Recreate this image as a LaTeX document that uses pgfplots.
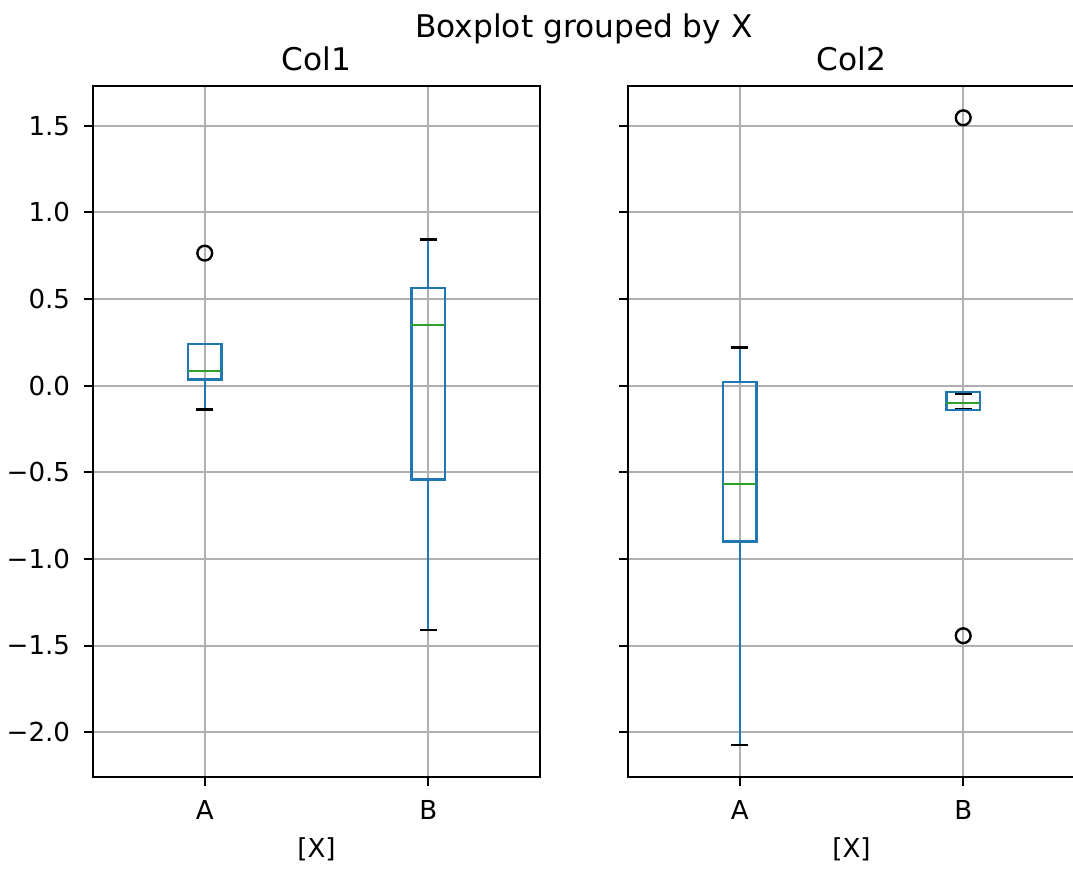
\documentclass[border=0pt]{standalone}
\usepackage{pgfplots}
\pgfplotsset{compat=1.18}
\usepgfplotslibrary{statistics}
\usepackage{fontspec}
\setmainfont{DejaVu Sans}
\definecolor{c0}{HTML}{1F77B4}
\definecolor{c2}{HTML}{2CA02C}
\definecolor{gridgray}{HTML}{B0B0B0}
\pgfplotsset{
  mpl/.style={
    width=217.47pt, height=336.3pt, scale only axis,
    xmin=0.5, xmax=2.5, ymin=-2.258, ymax=1.731,
    xtick={1,2}, xticklabels={A,B},
    ytick={-2,-1.5,-1,-0.5,0,0.5,1,1.5},
    grid=major, grid style={color=gridgray, line width=1pt},
    axis line style={line width=1pt},
    tick style={black, line width=1pt},
    major tick length=4.2pt,
    tick align=outside, tick pos=left,
    ticklabel style={font=\fontsize{12.7}{15}\selectfont},
    yticklabel style={xshift=-3.4pt},
    xticklabel style={yshift=-3.5pt},
    xlabel={[X]},
    xlabel style={font=\fontsize{12.7}{15}\selectfont, yshift=-2pt},
    title style={font=\fontsize{15.2}{18}\selectfont, at={(0.5,1)}, anchor=base, yshift=1.4pt},
    clip=false,
    boxplot/draw direction=y,
    boxplot/box extend=0.15,
    boxplot/every box/.style={draw=c0, line width=1.15pt},
    boxplot/every median/.style={draw=c2, line width=1.15pt},
    boxplot/draw/lower whisker/.code={
      \draw[c0, line width=1.15pt]
        (boxplot box cs:\pgfplotsboxplotvalue{lower whisker},0.5) --
        (boxplot box cs:\pgfplotsboxplotvalue{lower quartile},0.5);
      \draw[black, line width=1.15pt]
        (boxplot box cs:\pgfplotsboxplotvalue{lower whisker},0.25) --
        (boxplot box cs:\pgfplotsboxplotvalue{lower whisker},0.75);
    },
    boxplot/draw/upper whisker/.code={
      \draw[c0, line width=1.15pt]
        (boxplot box cs:\pgfplotsboxplotvalue{upper whisker},0.5) --
        (boxplot box cs:\pgfplotsboxplotvalue{upper quartile},0.5);
      \draw[black, line width=1.15pt]
        (boxplot box cs:\pgfplotsboxplotvalue{upper whisker},0.25) --
        (boxplot box cs:\pgfplotsboxplotvalue{upper whisker},0.75);
    },
  },
  bx/.style={c0, line width=1.15pt, mark=o, mark size=3.6pt,
    mark options={draw=black, fill=none, line width=1.15pt, solid}},
}
\begin{document}
\begin{tikzpicture}
\begin{axis}[mpl, name=ax1, title={Col1},
  yticklabels={−2.0,−1.5,−1.0,−0.5,0.0,0.5,1.0,1.5}]
\addplot[bx, boxplot prepared={draw position=1,
  lower whisker=-0.138, lower quartile=0.036, median=0.083,
  upper quartile=0.242, upper whisker=0.242}]
  coordinates {(1,0.765)};
\addplot[bx, boxplot prepared={draw position=2,
  lower whisker=-1.41, lower quartile=-0.541, median=0.352,
  upper quartile=0.564, upper whisker=0.844}]
  coordinates {};
\node[font=\fontsize{15.2}{18}\selectfont, anchor=base] at (rel axis cs:1.0984,1.0703) {Boxplot grouped by X};
\end{axis}
\begin{axis}[mpl, name=ax2, title={Col2},
  at={(ax1.south east)}, xshift=42.81pt, anchor=south west,
  yticklabels={}]
\addplot[bx, boxplot prepared={draw position=1,
  lower whisker=-2.073, lower quartile=-0.900, median=-0.566,
  upper quartile=0.023, upper whisker=0.22}]
  coordinates {};
\addplot[bx, boxplot prepared={draw position=2,
  lower whisker=-0.133, lower quartile=-0.142, median=-0.100,
  upper quartile=-0.038, upper whisker=-0.046}]
  coordinates {(2,1.546) (2,-1.443)};
\end{axis}
\pgfresetboundingbox
\path[use as bounding box] (ax1.south west) ++(-45.24pt,-44.76pt) rectangle ++(522.03pt,422.77pt);
\end{tikzpicture}
\end{document}
